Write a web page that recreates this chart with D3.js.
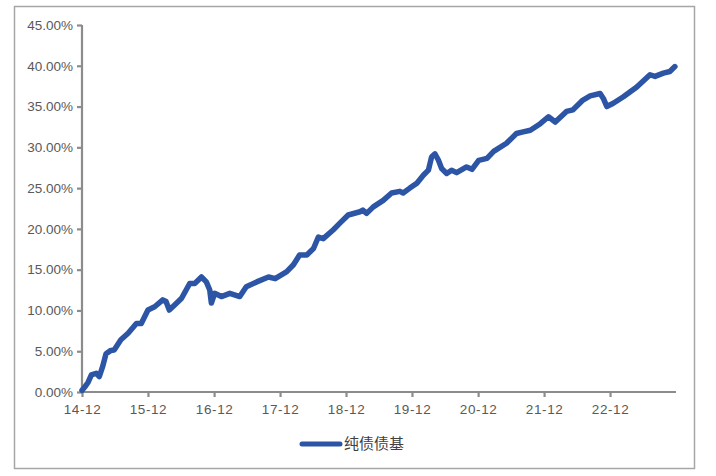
<!DOCTYPE html>
<html>
<head>
<meta charset="utf-8">
<script src="https://cdn.jsdelivr.net/npm/d3@7/dist/d3.min.js"></script>
<style>
  html, body { margin: 0; padding: 0; background: #ffffff; }
  svg { display: block; }
</style>
</head>
<body>
<svg id="chart" width="716" height="476"></svg>
<script>
// ---- data ----
const seriesName = "纯债债基";
const dates = [
  "2014-12-01","2014-12-16","2015-01-04","2015-01-22","2015-02-18","2015-03-07","2015-03-25",
  "2015-04-13","2015-05-10","2015-05-28","2015-07-04","2015-08-13","2015-09-28","2015-10-25",
  "2015-12-01","2016-01-07","2016-02-21","2016-03-10","2016-03-28","2016-04-28","2016-06-04",
  "2016-07-19","2016-08-16","2016-09-22","2016-10-19","2016-11-07","2016-11-16","2016-12-04",
  "2017-01-10","2017-02-26","2017-04-22","2017-05-28","2017-07-25","2017-09-28","2017-11-04",
  "2018-01-07","2018-02-13","2018-03-19","2018-04-28","2018-06-04","2018-07-01","2018-07-28",
  "2018-09-22","2018-10-28","2018-12-13","2019-02-16","2019-03-04","2019-03-25","2019-05-01",
  "2019-06-25","2019-08-10","2019-09-25","2019-10-13","2019-11-19","2019-12-28","2020-02-03",
  "2020-03-01","2020-03-19","2020-04-06","2020-04-25","2020-05-13","2020-06-10","2020-07-07",
  "2020-08-04","2020-09-28","2020-10-28","2020-12-04","2021-01-19","2021-02-25","2021-05-07",
  "2021-07-01","2021-08-07","2021-09-16","2021-11-10","2021-12-25","2022-02-01","2022-04-04",
  "2022-05-10","2022-07-04","2022-08-13","2022-10-07","2022-10-25","2022-11-13","2022-12-19",
  "2023-02-13","2023-04-28","2023-07-10","2023-08-07","2023-09-22","2023-10-28","2023-11-25"
];
const values = [
  0.2, 0.6, 1.2, 2.1, 2.3, 1.9, 3.1,
  4.7, 5.1, 5.15, 6.4, 7.2, 8.4, 8.4,
  10.05, 10.45, 11.3, 11.1, 10.05, 10.7, 11.5,
  13.3, 13.3, 14.1, 13.5, 12.5, 10.9, 12.1,
  11.7, 12.1, 11.7, 12.9, 13.5, 14.1, 13.9,
  14.75, 15.6, 16.8, 16.8, 17.6, 19.0, 18.8,
  19.9, 20.7, 21.7, 22.1, 22.3, 21.9, 22.7,
  23.5, 24.4, 24.6, 24.4, 25.0, 25.6, 26.6,
  27.2, 28.85, 29.2, 28.45, 27.4, 26.8, 27.2,
  26.9, 27.6, 27.3, 28.4, 28.65, 29.5, 30.5,
  31.7, 31.9, 32.1, 32.9, 33.75, 33.1, 34.4,
  34.6, 35.8, 36.3, 36.6, 36.0, 35.0, 35.4,
  36.2, 37.4, 38.9, 38.7, 39.1, 39.3, 39.9
];
const xTickDates = ["2014-12-01","2015-12-01","2016-12-01","2017-12-01","2018-12-01",
                    "2019-12-01","2020-12-01","2021-12-01","2022-12-01"];
const xDomain = ["2014-12-01","2023-12-01"];
const yTicks = [0, 5, 10, 15, 20, 25, 30, 35, 40, 45];

// ---- drawing ----
(function () {
const parse = d3.utcParse("%Y-%m-%d");
const data = dates.map((d, i) => ({ date: parse(d), value: values[i] }));

const svg = d3.select("#chart");
const mLeft = 82, mRight = 676, mTop = 25, mBottom = 392;

// outer frame
svg.append("rect")
  .attr("x", 14.5).attr("y", 6.5)
  .attr("width", 680).attr("height", 462)
  .attr("fill", "none").attr("stroke", "#a6a6a6").attr("stroke-width", 1.5);

const x = d3.scaleUtc().domain(xDomain.map(parse)).range([mLeft, mRight]);
const y = d3.scaleLinear().domain([0, 45]).range([mBottom, mTop]);

const axisColor = "#8c8c8c";
const textColor = "#595959";
const font = "'Liberation Sans', Arial, sans-serif";

const yAxis = svg.append("g")
  .attr("transform", `translate(${mLeft},0)`)
  .call(d3.axisLeft(y).tickValues(yTicks).tickSize(5).tickPadding(4)
    .tickFormat(d => d3.format(".2f")(d) + "%"));
const xAxis = svg.append("g")
  .attr("transform", `translate(0,${mBottom})`)
  .call(d3.axisBottom(x).tickValues(xTickDates.map(parse)).tickSize(5).tickPadding(7)
    .tickFormat(d3.utcFormat("%y-%m")));

[yAxis, xAxis].forEach(g => {
  g.select(".domain").attr("stroke", axisColor).attr("stroke-width", 2.2);
  g.selectAll(".tick line").attr("stroke", axisColor).attr("stroke-width", 2.2);
  g.selectAll(".tick text").attr("fill", textColor)
    .style("font-family", font).style("font-size", "13.5px");
});
xAxis.selectAll(".tick text").style("letter-spacing", "0.6px");
xAxis.select(".domain").attr("d", `M${mLeft},0H${mRight}`);
yAxis.select(".domain").attr("d", `M0,${mBottom}V${mTop}`);

// series line
const line = d3.line().x(d => x(d.date)).y(d => y(d.value)).curve(d3.curveLinear);
svg.append("path")
  .datum(data)
  .attr("d", line)
  .attr("fill", "none")
  .attr("stroke", "#2c55a5")
  .attr("stroke-width", 5.5)
  .attr("stroke-linejoin", "round")
  .attr("stroke-linecap", "round");

// legend
const lg = svg.append("g").attr("transform", "translate(302,444)");
lg.append("line").attr("x1", 0).attr("x2", 38).attr("y1", 0).attr("y2", 0)
  .attr("stroke", "#2c55a5").attr("stroke-width", 5).attr("stroke-linecap", "round");
lg.append("text").attr("x", 42).attr("y", 0).attr("dy", "0.35em")
  .attr("fill", "#404040")
  .style("font-family", "'Noto Sans CJK SC', sans-serif").style("font-size", "15px")
  .text(seriesName);
})();
</script>
</body>
</html>
